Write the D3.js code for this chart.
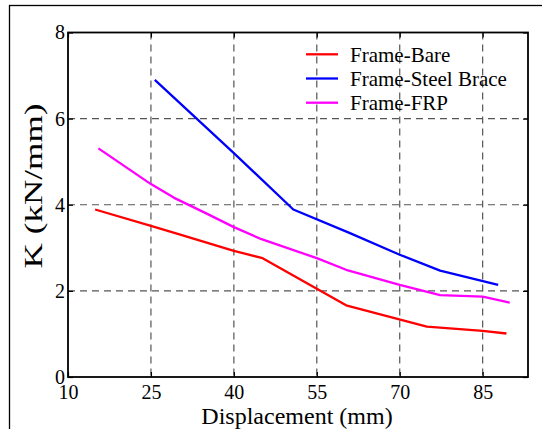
<!DOCTYPE html>
<html>
<head>
<meta charset="utf-8">
<script src="https://cdn.jsdelivr.net/npm/d3@7"></script>
<style>
body { margin: 0; background: #fff; }
svg { display: block; }
text { font-family: "Liberation Serif", "Times New Roman", serif; fill: #000; }
</style>
</head>
<body>
<svg id="chart" width="542" height="429"></svg>
<script>
// values
var xTicks = [10, 25, 40, 55, 70, 85];
var yTicks = [0, 2, 4, 6, 8];
var seriesNames = ['Frame-Bare', 'Frame-Steel Brace', 'Frame-FRP'];
var seriesColors = ['#ff0000', '#0000ff', '#ff00ff'];

var bareDisp = [14.9, 25, 30, 40, 45.2, 60.3, 74.9, 85, 89.3];
var bareK = [3.89, 3.51, 3.32, 2.93, 2.76, 1.665, 1.17, 1.07, 1.01];

var steelDisp = [25.7, 40, 50.75, 61, 70, 77.3, 87.8];
var steelK = [6.90, 5.20, 3.89, 3.34, 2.84, 2.47, 2.14];

var frpDisp = [15.5, 25, 29.2, 35, 40, 45, 55, 60.3, 70, 77.3, 85, 89.9];
var frpK = [5.31, 4.48, 4.16, 3.80, 3.48, 3.20, 2.76, 2.49, 2.14, 1.90, 1.865, 1.725];

var svg = d3.select('#chart');

// outer frame of the picture
svg.append('rect')
    .attr('x', 9.5).attr('y', 5.5)
    .attr('width', 600).attr('height', 500)
    .attr('fill', 'none')
    .attr('stroke', '#000')
    .attr('stroke-width', 1.3);

var x = d3.scaleLinear().domain([10, 93.2]).range([68, 528]);
var y = d3.scaleLinear().domain([0, 8]).range([377, 32.5]);

// dashed grid
var grid = svg.append('g')
    .attr('stroke', '#555')
    .attr('stroke-width', 1.2)
    .attr('stroke-dasharray', '7,5');

grid.selectAll('line.gx')
    .data(xTicks.slice(1))
    .join('line')
    .attr('class', 'gx')
    .attr('x1', function(d) { return x(d); })
    .attr('x2', function(d) { return x(d); })
    .attr('y1', y(8)).attr('y2', y(0));

grid.selectAll('line.gy')
    .data(yTicks.slice(1, -1))
    .join('line')
    .attr('class', 'gy')
    .attr('y1', function(d) { return y(d); })
    .attr('y2', function(d) { return y(d); })
    .attr('x1', x.range()[0]).attr('x2', x.range()[1]);

// axes, ticks pointing inwards
var axBottom = svg.append('g')
    .attr('transform', 'translate(0,' + y(0) + ')')
    .call(d3.axisBottom(x).tickValues(xTicks).tickSizeInner(-5).tickSizeOuter(0).tickPadding(8));
var axLeft = svg.append('g')
    .attr('transform', 'translate(' + x(10) + ',0)')
    .call(d3.axisLeft(y).tickValues(yTicks).tickSizeInner(-5).tickSizeOuter(0).tickPadding(3));
var axTop = svg.append('g')
    .attr('transform', 'translate(0,' + y(8) + ')')
    .call(d3.axisTop(x).tickValues(xTicks).tickSizeInner(-5).tickSizeOuter(0).tickFormat(''));
var axRight = svg.append('g')
    .attr('transform', 'translate(' + x.range()[1] + ',0)')
    .call(d3.axisRight(y).tickValues(yTicks).tickSizeInner(-5).tickSizeOuter(0).tickFormat(''));

[axBottom, axLeft, axTop, axRight].forEach(function(g) {
    g.select('.domain').remove();
    g.selectAll('.tick line').attr('stroke', '#000').attr('stroke-width', 1.2);
    g.selectAll('.tick text')
        .style('font-family', '"Liberation Serif", "Times New Roman", serif')
        .style('font-size', '20px')
        .attr('fill', '#000');
});

// box
svg.append('rect')
    .attr('x', x.range()[0]).attr('y', y(8))
    .attr('width', x.range()[1] - x.range()[0])
    .attr('height', y(0) - y(8))
    .attr('fill', 'none')
    .attr('stroke', '#000')
    .attr('stroke-width', 1.8);

// series
var series = [
    { disp: bareDisp, k: bareK },
    { disp: steelDisp, k: steelK },
    { disp: frpDisp, k: frpK }
];

var line = d3.line()
    .x(function(d) { return x(d[0]); })
    .y(function(d) { return y(d[1]); });

series.forEach(function(s, i) {
    svg.append('path')
        .datum(d3.zip(s.disp, s.k))
        .attr('d', line)
        .attr('fill', 'none')
        .attr('stroke', seriesColors[i])
        .attr('stroke-width', 2.3)
        .attr('stroke-linejoin', 'round');
});

// legend
var legend = svg.append('g');
seriesNames.forEach(function(name, i) {
    var ly = 54.3 + i * 24.2;
    legend.append('line')
        .attr('x1', 306).attr('x2', 338)
        .attr('y1', ly).attr('y2', ly)
        .attr('stroke', seriesColors[i])
        .attr('stroke-width', 2.3);
    legend.append('text')
        .attr('x', 350).attr('y', ly + 7.5)
        .style('font-size', '21px')
        .text(name);
});

// axis titles
svg.append('text')
    .attr('x', (x.range()[0] + x.range()[1]) / 2 - 1)
    .attr('y', 424)
    .attr('text-anchor', 'middle')
    .style('font-size', '24px')
    .text('Displacement (mm)');

svg.append('text')
    .attr('transform', 'translate(42,186) rotate(-90)')
    .attr('text-anchor', 'middle')
    .attr('textLength', 165)
    .attr('lengthAdjust', 'spacingAndGlyphs')
    .style('font-size', '26px')
    .text('K (kN/mm)');
</script>
</body>
</html>
